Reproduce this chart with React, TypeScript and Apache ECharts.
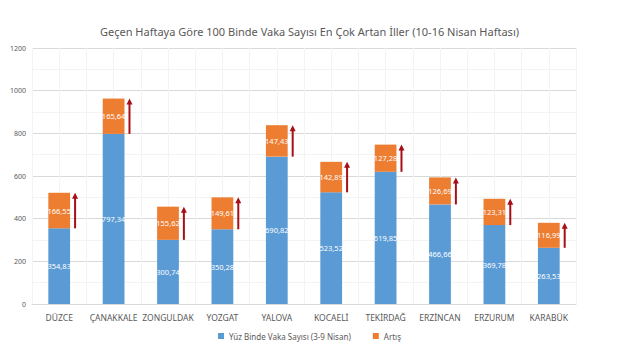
import React, { useEffect, useRef } from "react";
import * as echarts from "echarts";

const titleText = "Geçen Haftaya Göre 100 Binde Vaka Sayısı En Çok Artan İller (10-16 Nisan Haftası)";
const categories = ["DÜZCE", "ÇANAKKALE", "ZONGULDAK", "YOZGAT", "YALOVA", "KOCAELİ", "TEKİRDAĞ", "ERZİNCAN", "ERZURUM", "KARABÜK"];
const baseValues = [354.83, 797.34, 300.74, 350.28, 690.82, 523.52, 619.85, 466.66, 369.78, 263.53];
const increaseValues = [166.55, 165.64, 155.62, 149.61, 147.43, 142.89, 127.28, 126.69, 123.31, 116.99];
const seriesNames = ["Yüz Binde Vaka Sayısı (3-9 Nisan)", "Artış"];

const fmt = (v: number) => v.toFixed(2).replace(".", ",");
const FONT = "'Noto Sans', sans-serif";

export default function App() {
  const ref = useRef<HTMLDivElement>(null);
  useEffect(() => {
    if (!ref.current) return;
    const chart = echarts.init(ref.current, null, { renderer: "svg" });
    const arrowData = categories.map((_, i) => [i, baseValues[i], baseValues[i] + increaseValues[i]]);
    chart.setOption({
      animation: false,
      title: {
        text: titleText,
        left: "center",
        top: 21,
        textStyle: { fontFamily: FONT, fontSize: 11, fontWeight: "normal", color: "#595959" },
      },
      legend: {
        bottom: 15,
        left: "center",
        itemWidth: 6,
        itemHeight: 6,
        itemGap: 22,
        icon: "rect",
        data: seriesNames,
        textStyle: { fontFamily: FONT, fontSize: 8, color: "#595959" },
      },
      grid: { left: 32, right: 43, top: 48, bottom: 56 },
      xAxis: [
        {
          type: "category",
          data: categories,
          axisTick: { show: false },
          axisLine: { lineStyle: { color: "#D9D9D9" } },
          axisLabel: { interval: 0, fontFamily: FONT, fontSize: 8.5, color: "#595959", margin: 9 },
        },
        {
          type: "value",
          min: 0,
          max: 10,
          interval: 0.5,
          position: "top",
          axisLine: { show: false },
          axisTick: { show: false },
          axisLabel: { show: false },
          splitLine: { show: true, lineStyle: { color: "#F3F3F3", width: 1 } },
        },
      ],
      yAxis: {
        type: "value",
        min: 0,
        max: 1200,
        interval: 200,
        axisLine: { show: false },
        axisTick: { show: false },
        axisLabel: { fontFamily: FONT, fontSize: 7, color: "#595959", margin: 6, formatter: (v: number) => String(v) },
        splitLine: { lineStyle: { color: "#D9D9D9" } },
        minorTick: { show: false, splitNumber: 2 },
        minorSplitLine: { show: true, lineStyle: { color: "#F3F3F3" } },
      },
      series: [
        {
          name: seriesNames[0],
          type: "bar",
          stack: "total",
          barWidth: "40%",
          data: baseValues,
          itemStyle: { color: "#5B9BD5" },
          label: {
            show: true,
            position: "inside",
            color: "#FFFFFF",
            fontFamily: FONT,
            fontSize: 7.5,
            formatter: (p: any) => fmt(p.value),
          },
        },
        {
          name: seriesNames[1],
          type: "bar",
          stack: "total",
          barWidth: "40%",
          data: increaseValues,
          itemStyle: { color: "#ED7D31" },
          label: {
            show: true,
            position: "inside",
            color: "#FFFFFF",
            fontFamily: FONT,
            fontSize: 7.5,
            formatter: (p: any) => fmt(p.value),
          },
        },
        {
          type: "custom",
          name: "arrows",
          silent: true,
          data: arrowData,
          encode: { x: 0, y: [1, 2] },
          renderItem: (params: any, api: any) => {
            const i = api.value(0);
            const p1 = api.coord([i, api.value(1)]);
            const p2 = api.coord([i, api.value(2)]);
            const bw = api.size([1, 0])[0] * 0.4;
            const x = p1[0] + bw / 2 + 5;
            const color = "#A50F15";
            return {
              type: "group",
              children: [
                {
                  type: "line",
                  shape: { x1: x, y1: p1[1], x2: x, y2: p2[1] + 5 },
                  style: { stroke: color, lineWidth: 2 },
                },
                {
                  type: "polygon",
                  shape: { points: [[x - 3, p2[1] + 6], [x + 3, p2[1] + 6], [x, p2[1]]] },
                  style: { fill: color },
                },
              ],
            };
          },
        },
      ],
    });
    return () => chart.dispose();
  }, []);
  return <div ref={ref} style={{ position: "absolute", left: 0, top: 0, width: 619, height: 360 }} />;
}
